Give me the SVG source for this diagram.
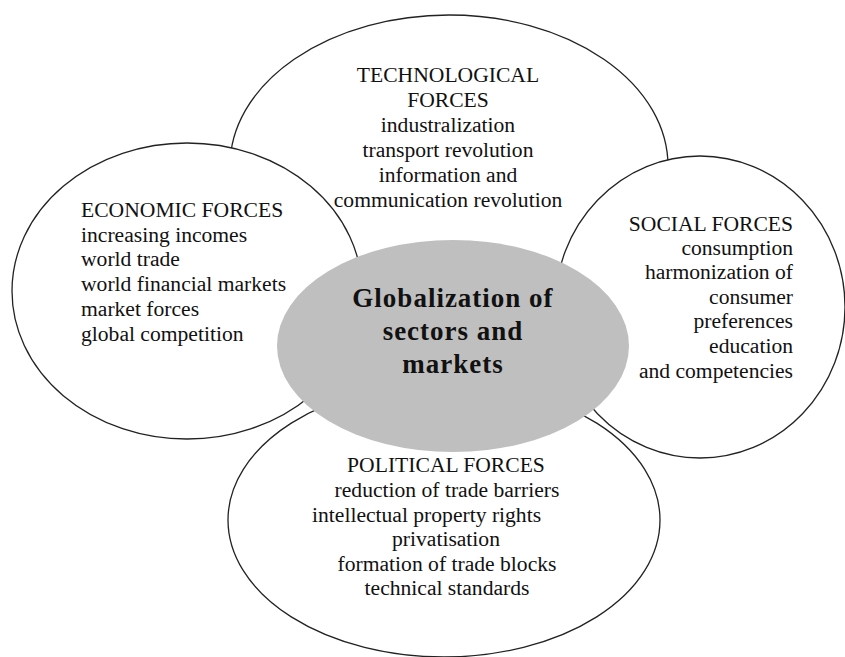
<svg xmlns="http://www.w3.org/2000/svg" width="845" height="657" viewBox="0 0 845 657">
<style>
.force{fill:#ffffff;stroke:#222;stroke-width:1.3}
.core{fill:#bfbfbf;stroke:none}
.t{font-size:21.6px;fill:#111}
.m{text-anchor:middle}
.e{text-anchor:end}
.b{font-size:27px;font-weight:bold;fill:#111;text-anchor:middle;letter-spacing:1px}
</style>
<rect width="845" height="657" fill="#ffffff"/>
<g id="technological">
<ellipse class="force" cx="449" cy="166" rx="219" ry="151"/>
</g>
<g id="economic">
<ellipse class="force" cx="187" cy="291" rx="175" ry="148"/>
</g>
<g id="social">
<ellipse class="force" cx="700" cy="307" rx="145" ry="151"/>
</g>
<g id="political">
<ellipse class="force" cx="444" cy="520" rx="216" ry="137"/>
</g>
<g id="connectors"></g>
<g id="center" font-family="Liberation Serif, DejaVu Serif, serif">
<ellipse class="core" cx="453" cy="346" rx="176" ry="106"/>
<text class="b" x="453" y="307">Globalization of</text>
<text class="b" x="453" y="340">sectors and</text>
<text class="b" x="453" y="373">markets</text>
</g>
<g id="technological-text" font-family="Liberation Serif, DejaVu Serif, serif">
<text class="t m" x="448" y="82">TECHNOLOGICAL</text>
<text class="t m" x="448" y="107">FORCES</text>
<text class="t m" x="448" y="132">industralization</text>
<text class="t m" x="448" y="157">transport revolution</text>
<text class="t m" x="448" y="182">information and</text>
<text class="t m" x="448" y="207">communication revolution</text>
</g>
<g id="economic-text" font-family="Liberation Serif, DejaVu Serif, serif">
<text class="t" x="81" y="217">ECONOMIC FORCES</text>
<text class="t" x="81" y="242">increasing incomes</text>
<text class="t" x="81" y="266">world trade</text>
<text class="t" x="81" y="291">world financial markets</text>
<text class="t" x="81" y="316">market forces</text>
<text class="t" x="81" y="341">global competition</text>
</g>
<g id="social-text" font-family="Liberation Serif, DejaVu Serif, serif">
<text class="t e" x="793" y="231">SOCIAL FORCES</text>
<text class="t e" x="793" y="255">consumption</text>
<text class="t e" x="793" y="279">harmonization of</text>
<text class="t e" x="793" y="304">consumer</text>
<text class="t e" x="793" y="328">preferences</text>
<text class="t e" x="793" y="353">education</text>
<text class="t e" x="793" y="378">and competencies</text>
</g>
<g id="political-text" font-family="Liberation Serif, DejaVu Serif, serif">
<text class="t m" x="446" y="472">POLITICAL FORCES</text>
<text class="t m" x="447" y="497">reduction of trade barriers</text>
<text class="t" x="312" y="522">intellectual property rights</text>
<text class="t m" x="446" y="546">privatisation</text>
<text class="t m" x="447" y="571">formation of trade blocks</text>
<text class="t m" x="447" y="595">technical standards</text>
</g>
</svg>
